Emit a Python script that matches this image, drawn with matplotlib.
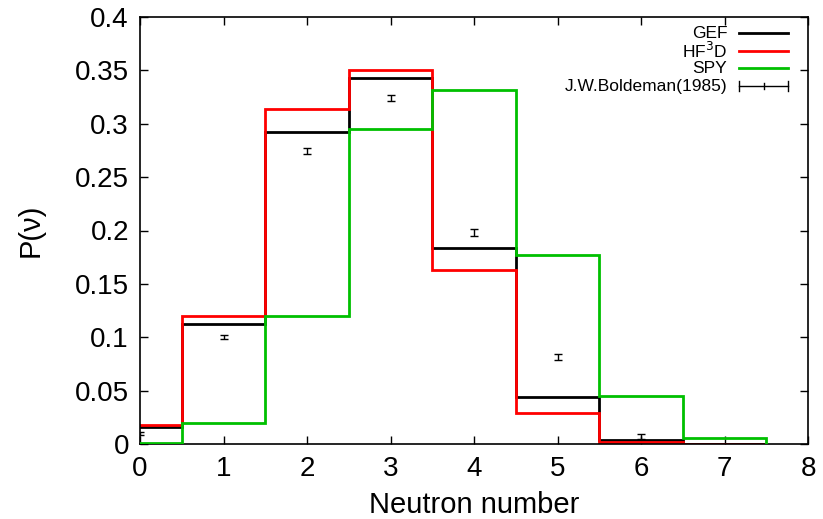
import numpy as np
import matplotlib
matplotlib.use("Agg")
import matplotlib.pyplot as plt
from matplotlib.lines import Line2D

plt.rcParams['font.family'] = ['Liberation Sans', 'DejaVu Sans']

nu = [0, 1, 2, 3, 4, 5, 6, 7]
gef = [0.016, 0.112, 0.292, 0.343, 0.184, 0.044, 0.004, 0.0003]
hf3d = [0.018, 0.120, 0.314, 0.350, 0.163, 0.029, 0.0015, 0.0004]
spy = [0.0008, 0.020, 0.120, 0.295, 0.332, 0.177, 0.045, 0.0054]

exp_nu = [0, 1, 2, 3, 4, 5, 6]
exp_p = [0.0097, 0.100, 0.2745, 0.324, 0.198, 0.0817, 0.0069]
exp_err = [0.0015, 0.0018, 0.0030, 0.0030, 0.0030, 0.0030, 0.0020]

xticks = [0, 1, 2, 3, 4, 5, 6, 7, 8]
yticks = [0, 0.05, 0.1, 0.15, 0.2, 0.25, 0.3, 0.35, 0.4]
ytick_labels = ['0', '0.05', '0.1', '0.15', '0.2', '0.25', '0.3', '0.35', '0.4']

fig = plt.figure(figsize=(8.23, 5.19), dpi=100)
ax = fig.add_axes([140/823, 1-444/519, 668/823, 427/519])

edges = np.arange(len(nu) + 1) - 0.5
ax.stairs(spy, edges, baseline=0, color="#00c000", lw=2.0, zorder=3)
ax.stairs(gef, edges, baseline=0, color="black", lw=2.0, zorder=2)
ax.stairs(hf3d, edges, baseline=0, color="#ff0000", lw=2.0, zorder=2.5)

ax.errorbar(exp_nu, exp_p, yerr=exp_err, fmt='none', ecolor='black',
            elinewidth=1.0, capsize=3, capthick=1.0, zorder=4)

ax.set_xlim(0, 8)
ax.set_ylim(0, 0.4)
ax.set_xticks(xticks)
ax.set_yticks(yticks)
ax.set_yticklabels(ytick_labels)
ax.tick_params(direction='in', top=True, right=True, length=6, width=1,
               labelsize=20, pad=8)
ax.tick_params(axis='x', pad=9)
for s in ax.spines.values():
    s.set_linewidth(1.2)

ax.set_xlabel("Neutron number", fontsize=21, labelpad=6)
ax.set_ylabel("P(ν)", fontsize=21, labelpad=22)

# legend (gnuplot style: text right-aligned, sample to the right)
rows = [0.962, 0.920, 0.880, 0.838]
labels = ["GEF", "HF$^3$D", "SPY", "J.W.Boldeman(1985)"]
cols = ["black", "#ff0000", "#00c000"]
tx, x0, x1 = 0.879, 0.897, 0.970
for i, (lab, y) in enumerate(zip(labels, rows)):
    ax.text(tx, y, lab, transform=ax.transAxes, ha='right', va='center',
            fontsize=12.5)
    if i < 3:
        ax.add_line(Line2D([x0, x1], [y, y], transform=ax.transAxes,
                           color=cols[i], lw=2.0))
    else:
        ax.add_line(Line2D([x0, x1], [y, y], transform=ax.transAxes,
                           color='black', lw=1.0))
        for xx, h in [(x0, 0.012), (x1, 0.012), ((x0 + x1) / 2, 0.007)]:
            ax.add_line(Line2D([xx, xx], [y - h, y + h], transform=ax.transAxes,
                               color='black', lw=1.0))

fig.savefig("out.png", dpi=100)
